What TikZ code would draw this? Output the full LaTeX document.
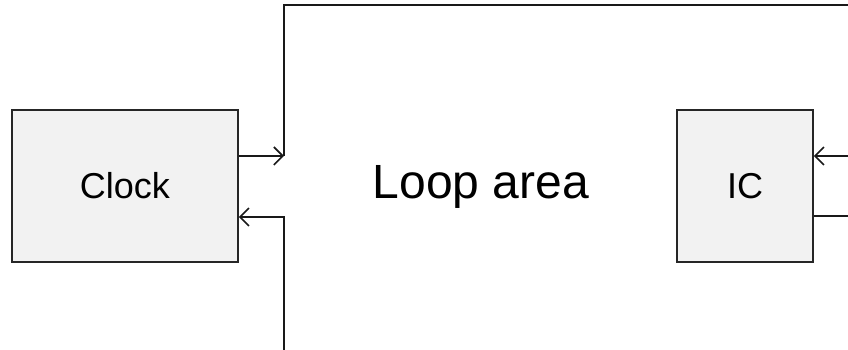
\documentclass[tikz,border=0pt]{standalone}
\usepackage{fontspec}
\setmainfont{Liberation Sans}
\usetikzlibrary{arrows.meta}
\begin{document}
\begin{tikzpicture}[x=1pt,y=1pt,
  block/.style={draw=black!85, line width=1.6pt, fill=black!5, inner sep=0pt,
    minimum height=152pt, font=\fontsize{36}{40}\selectfont},
  conn/.style={draw=black!90, line width=1.6pt},
  tip/.style={-{Straight Barb[length=9pt,width=18pt,line width=1.6pt]}}]
\useasboundingbox (0,0) rectangle (848,350);

% blocks
\node[block, minimum width=226pt] (clock) at (125,164) {Clock};
\node[block, minimum width=136pt] (ic) at (745,164) {IC};
\node[anchor=base, inner sep=0pt, font=\fontsize{48}{52}\selectfont] (loop) at (481,151) {Loop area};

% routing points
\coordinate (tA) at (284,194);
\coordinate (top) at (284,345);
\coordinate (topR) at (848,345);
\coordinate (bA) at (284,133);
\coordinate (bot) at (284,0);
\coordinate (rA) at (848,194);
\coordinate (rB) at (848,134);

% connectors
\draw[conn, tip] (clock.east |- tA) -- (tA);
\draw[conn] (tA) -- (top) -- (topR);
\draw[conn, tip] (bot) -- (bA) -- (clock.east |- bA);
\draw[conn, tip] (rA) -- (ic.east |- rA);
\draw[conn] (ic.east |- rB) -- (rB);
\end{tikzpicture}
\end{document}
